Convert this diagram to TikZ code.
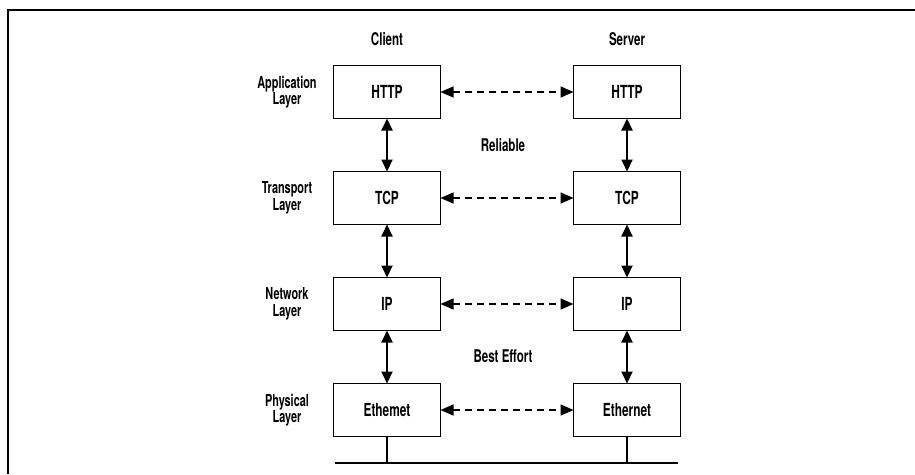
\documentclass[tikz,border=0pt]{standalone}
\usepackage{fontspec}
\setmainfont{TeX Gyre Heros}[FakeStretch=0.66]
\usetikzlibrary{arrows.meta,positioning}
\tikzset{
  layer/.style={rectangle, draw=black, line width=1.6pt, minimum width=107pt,
    minimum height=53pt, inner sep=0pt, outer sep=0pt, font=\fontsize{18}{20}\selectfont\bfseries},
  lbl/.style={align=center, font=\fontsize{16.5}{16.5}\selectfont\bfseries},
  head/.style={font=\fontsize{17.5}{19}\selectfont\bfseries},
  updown/.style={{Triangle[length=12pt,width=11pt]}-{Triangle[length=12pt,width=11pt]}, line width=2pt},
  peer/.style={{Triangle[length=13pt,width=11pt]}-{Triangle[length=13pt,width=11pt]}, line width=1.4pt,
    dash pattern=on 7pt off 5pt},
}
\begin{document}
\begin{tikzpicture}[x=1pt, y=-1pt]
\useasboundingbox (0,0) rectangle (915,474);
% frame
\draw[line width=2pt] (915,10) -- (8,10) -- (8,474);
% column heads
\node[head] (client) at (387,39) {Client};
\node[head] (server) at (627,39) {Server};
% client stack
\node[layer] (httpc) at (387,92)  {HTTP};
\node[layer] (tcpc)  at (387,198) {TCP};
\node[layer] (ipc)   at (387,304) {IP};
\node[layer] (ethc)  at (387,410) {Ethemet};
% server stack
\node[layer] (https) at (627,92)  {HTTP};
\node[layer] (tcps)  at (627,198) {TCP};
\node[layer] (ips)   at (627,304) {IP};
\node[layer] (eths)  at (627,410) {Ethernet};
% layer names
\node[lbl] (lapp)   at (287,92)  {Application\\Layer};
\node[lbl] (ltrans) at (287,198) {Transport\\Layer};
\node[lbl] (lnet)   at (287,304) {Network\\Layer};
\node[lbl] (lphys)  at (287,410) {Physical\\Layer};
% service labels
\node[head] (rel) at (503,145) {Reliable};
\node[head] (best) at (503,356) {Best Effort};
% up and down the stacks
\draw[updown] (httpc) -- (tcpc);
\draw[updown] (tcpc)  -- (ipc);
\draw[updown] (ipc)   -- (ethc);
\draw[updown] (https) -- (tcps);
\draw[updown] (tcps)  -- (ips);
\draw[updown] (ips)   -- (eths);
% peer links
\draw[peer] (httpc) -- (https);
\draw[peer] (tcpc)  -- (tcps);
\draw[peer] (ipc)   -- (ips);
\draw[peer] (ethc)  -- (eths);
% wire
\coordinate (busl) at (335,463);
\coordinate (busr) at (678,463);
\draw[line width=1.6pt] (busl) -- (busr);
\draw[line width=1.6pt] (ethc.south) -- (ethc.south |- busl);
\draw[line width=1.6pt] (eths.south) -- (eths.south |- busr);
\end{tikzpicture}
\end{document}
